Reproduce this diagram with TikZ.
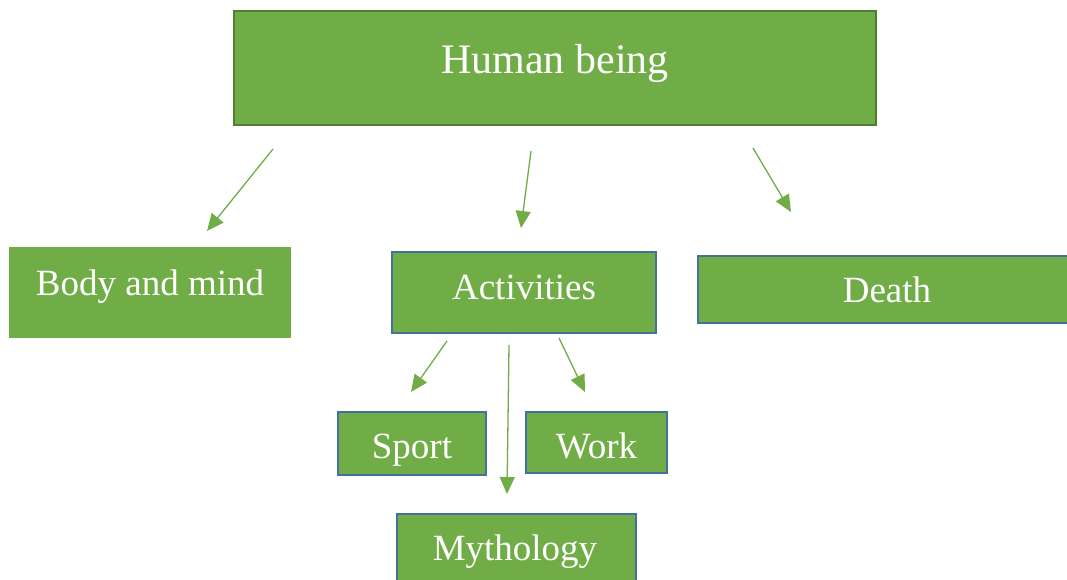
\documentclass[tikz,border=0pt]{standalone}
\usepackage{fontspec}
\setmainfont{Liberation Serif}
\usetikzlibrary{arrows.meta}
\definecolor{leaf}{HTML}{70AD47}
\definecolor{leafdark}{HTML}{507E32}
\definecolor{edgeblue}{HTML}{41719C}

\begin{document}
\begin{tikzpicture}[x=1pt,y=-1pt,
        box/.style={rectangle,fill=leaf,inner sep=0pt},
        bluebox/.style={box,draw=edgeblue,line width=2.5pt},
        txt/.style={anchor=base,text=white,inner sep=0pt,font=\fontsize{37}{44}\selectfont},
        link/.style={draw=leaf,line width=1.3pt,-{Triangle[length=17pt,width=15pt]}}]
    \clip (0,0) rectangle (1067,579);
    \fill[white] (0,0) rectangle (1067,579);
    % top box
    \node[box,draw=leafdark,line width=2pt,minimum width=642pt,minimum height=114pt] (human) at (555,68) {};
    \node[txt,font=\fontsize{42}{50}\selectfont] (humanT) at (555,73) {Human being};
    % second row
    \node[box,minimum width=282pt,minimum height=91pt] (body) at (150,292.5) {};
    \node[txt] (bodyT) at (150,295) {Body and mind};
    \node[bluebox,minimum width=264pt,minimum height=81pt] (act) at (524,292.5) {};
    \node[txt] (actT) at (524,299) {Activities};
    \node[bluebox,minimum width=378pt,minimum height=67pt] (death) at (887,289.5) {};
    \node[txt] (deathT) at (887,302) {Death};
    % activities
    \node[bluebox,minimum width=148pt,minimum height=63pt] (sport) at (412,443.5) {};
    \node[txt] (sportT) at (412,458) {Sport};
    \node[bluebox,minimum width=141pt,minimum height=61pt] (work) at (596.5,442.5) {};
    \node[txt] (workT) at (596.5,458) {Work};
    \node[bluebox,minimum width=239pt,minimum height=72pt] (myth) at (516.5,550) {};
    \node[txt] (mythT) at (515,560) {Mythology};
    % arrow ends
    \coordinate (h1) at (273,149);  \coordinate (b1) at (207,231);
    \coordinate (h2) at (531,151);  \coordinate (a1) at (521,228);
    \coordinate (h3) at (753,148);  \coordinate (d1) at (791,212);
    \coordinate (a2) at (447,341);  \coordinate (s1) at (411,392);
    \coordinate (a3) at (509,345);  \coordinate (m1) at (507,494);
    \coordinate (a4) at (559,338);  \coordinate (w1) at (585,392);
    \draw[link] (h1) -- (b1);
    \draw[link] (h2) -- (a1);
    \draw[link] (h3) -- (d1);
    \draw[link] (a2) -- (s1);
    \draw[link] (a3) -- (m1);
    \draw[link] (a4) -- (w1);
\end{tikzpicture}
\end{document}
